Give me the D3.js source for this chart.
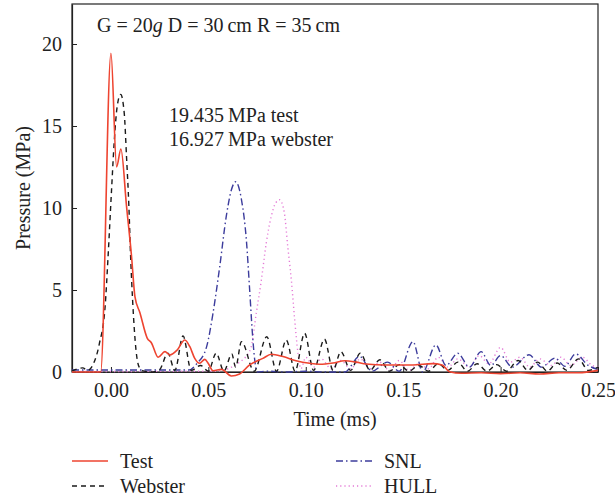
<!DOCTYPE html>
<html>
<head>
<meta charset="utf-8">
<script src="https://cdn.jsdelivr.net/npm/d3@7"></script>
<style>
  html, body { margin: 0; padding: 0; background: #fff; }
  svg { display: block; font-family: "Liberation Serif", "DejaVu Serif", serif; }
</style>
</head>
<body>
<svg id="chart" width="615" height="500"></svg>
<script>
// Pressure histories, [time (ms), pressure (MPa)]
const testSeries = [
  [-0.02, 0], [-0.0053, 0], [0.0, 19.435], [0.0029, 12.5], [0.0051, 13.6],
  [0.008, 10.1], [0.0106, 7.0], [0.0123, 4.6], [0.0149, 3.6], [0.0186, 2.07],
  [0.0208, 1.77], [0.0242, 0.9], [0.0277, 1.24], [0.0302, 1.04], [0.034, 1.34],
  [0.0379, 1.95], [0.0405, 1.54], [0.043, 0.83], [0.0455, 0.53], [0.0482, 0.77],
  [0.0499, 0.53], [0.0524, 0.08], [0.0567, 0.16], [0.0618, -0.24], [0.066, -0.12],
  [0.0712, 0.43], [0.078, 0.83], [0.0823, 1.08], [0.0883, 0.94], [0.095, 0.69],
  [0.102, 0.53], [0.107, 0.47], [0.114, 0.55], [0.12, 0.69], [0.126, 0.6],
  [0.131, 0.49], [0.141, 0.43], [0.155, 0.43], [0.165, 0.51], [0.17, 0.43],
  [0.1737, 0.02], [0.18, -0.08], [0.19, -0.05], [0.2, -0.1], [0.21, -0.05],
  [0.22, -0.12], [0.23, -0.05], [0.24, -0.05], [0.25, 0.1]
];

const websterSeries = [
  [-0.02, 0.05], [-0.0145, 0.25], [-0.012, 0.1], [-0.009, 0.5], [-0.006, 1.7],
  [-0.003, 4.0], [-0.0015, 7.0], [0.0003, 11.1], [0.0017, 14.1], [0.0032, 16.2],
  [0.005, 16.927], [0.0068, 15.8], [0.008, 13.1], [0.0092, 10.1], [0.0101, 7.0],
  [0.0111, 4.4], [0.0128, 1.4], [0.0145, 0.3], [0.017, 0.05], [0.021, 0.0],
  [0.025, 0.15], [0.0292, 1.15], [0.0328, 0.1], [0.037, 2.2], [0.0412, 0.1],
  [0.046, 0.4], [0.05, 0.05], [0.054, 1.15], [0.058, 0.05], [0.062, 1.1],
  [0.064, 0.3], [0.067, 1.85], [0.0735, 0.05], [0.08, 2.15], [0.085, 0.05],
  [0.09, 1.95], [0.0945, 0.05], [0.0994, 2.36], [0.104, 0.1], [0.1096, 2.0],
  [0.114, 0.1], [0.118, 1.24], [0.123, 0.1], [0.128, 1.15], [0.133, 0.1],
  [0.138, 0.75], [0.143, 0.05], [0.148, 0.45], [0.153, 0.05], [0.158, 0.4],
  [0.163, 0.05], [0.168, 0.5], [0.173, 0.1], [0.178, 0.6], [0.183, 0.05],
  [0.188, 0.5], [0.193, 0.05], [0.198, 0.45], [0.203, 0.05], [0.209, 0.7],
  [0.214, 0.1], [0.219, 0.6], [0.224, 0.05], [0.229, 0.55], [0.234, 0.1],
  [0.24, 0.8], [0.245, 0.1], [0.25, 0.3]
];

const snlSeries = [
  [-0.02, 0.12], [0.04, 0.12], [0.044, 0.5], [0.049, 1.5], [0.0524, 3.6],
  [0.0558, 6.4], [0.0592, 9.5], [0.0618, 11.1], [0.064, 11.6], [0.067, 10.5],
  [0.0695, 8.05], [0.0712, 5.0], [0.0726, 2.36], [0.0738, 0.73], [0.075, 0.0],
  [0.08, 0.05], [0.09, 0.0], [0.1, 0.05], [0.11, 0.0], [0.12, 0.0],
  [0.1276, 0.95], [0.134, 0.05], [0.142, 0.6], [0.148, 0.05], [0.155, 1.85],
  [0.16, 0.0], [0.1668, 1.65], [0.172, 0.4], [0.178, 1.14], [0.184, 0.3],
  [0.19, 1.24], [0.195, 0.4], [0.2, 1.0], [0.206, 0.3], [0.2146, 1.05],
  [0.221, 0.3], [0.228, 0.85], [0.233, 0.35], [0.2385, 1.1], [0.245, 0.4],
  [0.25, 0.15]
];

const hullSeries = [
  [-0.02, 0.03], [0.055, 0.05], [0.062, 0.3], [0.066, 0.6], [0.069, 0.9],
  [0.072, 1.54], [0.0746, 3.6], [0.0772, 5.6], [0.0797, 7.85], [0.0823, 9.5],
  [0.0845, 10.3], [0.0866, 10.5], [0.089, 9.7], [0.0908, 7.6], [0.0926, 5.6],
  [0.0943, 3.2], [0.096, 1.14], [0.0975, 0.2], [0.1, 0.9], [0.104, 0.3],
  [0.108, 0.8], [0.113, 0.2], [0.118, 0.7], [0.123, 0.2], [0.128, 0.8],
  [0.133, 0.2], [0.138, 0.6], [0.143, 0.1], [0.148, 0.7], [0.153, 0.1],
  [0.158, 0.5], [0.163, 0.2], [0.168, 0.9], [0.173, 0.3], [0.178, 0.8],
  [0.184, 0.3], [0.189, 1.0], [0.194, 0.5], [0.2, 1.5], [0.205, 0.6],
  [0.21, 0.9], [0.215, 0.3], [0.22, 0.8], [0.226, 0.4], [0.231, 0.9],
  [0.236, 0.4], [0.242, 0.9], [0.247, 0.4], [0.25, 0.3]
];

const xTicks = [0.00, 0.05, 0.10, 0.15, 0.20, 0.25];
const yTicks = [0, 5, 10, 15, 20];
const seriesNames = ["Test", "Webster", "SNL", "HULL"];
const peakNotes = ["19.435\u2009MPa test", "16.927\u2009MPa webster"];

const styles = {
  Test:    { color: "#ee4430", width: 1.6, dash: null },
  Webster: { color: "#1a1a1a", width: 1.4, dash: "5,4" },
  SNL:     { color: "#3c3c9c", width: 1.4, dash: "7,3,1.5,3" },
  HULL:    { color: "#e47ad6", width: 1.4, dash: "1.2,3" }
};

const svg = d3.select("#chart");
const plotLeft = 72, plotRight = 598, plotTop = 4, plotBottom = 372;

const x = d3.scaleLinear().domain([-0.02, 0.25]).range([plotLeft, plotRight]);
const y = d3.scaleLinear().domain([0, 22.44]).range([plotBottom, plotTop]);

// frame
svg.append("rect")
  .attr("x", plotLeft).attr("y", plotTop)
  .attr("width", plotRight - plotLeft).attr("height", plotBottom - plotTop)
  .attr("fill", "none").attr("stroke", "#222").attr("stroke-width", 1.2);

// axes
const xAxis = d3.axisBottom(x).tickValues(xTicks).tickFormat(d3.format(".2f"))
  .tickSizeInner(-5).tickSizeOuter(0).tickPadding(11);
const yAxis = d3.axisLeft(y).tickValues(yTicks).tickFormat(d3.format("d"))
  .tickSizeInner(-5).tickSizeOuter(0).tickPadding(10);

const gx = svg.append("g").attr("transform", `translate(0,${plotBottom})`).call(xAxis);
const gy = svg.append("g").attr("transform", `translate(${plotLeft},0)`).call(yAxis);
[gx, gy].forEach(g => {
  g.select(".domain").attr("stroke", "#222").attr("stroke-width", 1.2);
  g.selectAll(".tick line").attr("stroke", "#222");
  g.selectAll(".tick text").attr("font-size", 20).attr("fill", "#222")
    .attr("font-family", "Liberation Serif, serif");
});

// curves
const line = d3.line().x(d => x(d[0])).y(d => y(d[1])).curve(d3.curveMonotoneX);
const allSeries = { Test: testSeries, Webster: websterSeries, SNL: snlSeries, HULL: hullSeries };
["HULL", "SNL", "Webster", "Test"].forEach(name => {
  const s = styles[name];
  svg.append("path")
    .datum(allSeries[name])
    .attr("d", line)
    .attr("fill", "none")
    .attr("stroke", s.color)
    .attr("stroke-width", s.width)
    .attr("stroke-dasharray", s.dash);
});

// axis titles
svg.append("text")
  .attr("x", (plotLeft + plotRight) / 2).attr("y", 426)
  .attr("text-anchor", "middle").attr("font-size", 20).attr("fill", "#222")
  .text("Time (ms)");
svg.append("text")
  .attr("transform", `translate(30,${(plotTop + plotBottom) / 2}) rotate(-90)`)
  .attr("text-anchor", "middle").attr("font-size", 20).attr("fill", "#222")
  .text("Pressure (MPa)");

// case parameters
const cond = svg.append("text").attr("x", 97).attr("y", 32)
  .attr("font-size", 20).attr("fill", "#222");
cond.append("tspan").text("G = 20");
cond.append("tspan").attr("font-style", "italic").text("g");
cond.append("tspan").text(" D = 30\u2009cm R = 35\u2009cm");

// peak values
peakNotes.forEach((t, i) => {
  svg.append("text").attr("x", 169).attr("y", 122 + i * 24)
    .attr("font-size", 20).attr("fill", "#222").text(t);
});

// legend
const legendPos = [
  { name: "Test", lx: 72, ly: 461 },
  { name: "Webster", lx: 72, ly: 486 },
  { name: "SNL", lx: 336, ly: 461 },
  { name: "HULL", lx: 336, ly: 486 }
];
legendPos.forEach(p => {
  const s = styles[p.name];
  svg.append("line")
    .attr("x1", p.lx).attr("x2", p.lx + 36)
    .attr("y1", p.ly).attr("y2", p.ly)
    .attr("stroke", s.color).attr("stroke-width", s.width)
    .attr("stroke-dasharray", s.dash);
  svg.append("text")
    .attr("x", p.lx + 48).attr("y", p.ly + 7)
    .attr("font-size", 20).attr("fill", "#222").text(p.name);
});
</script>
</body>
</html>
